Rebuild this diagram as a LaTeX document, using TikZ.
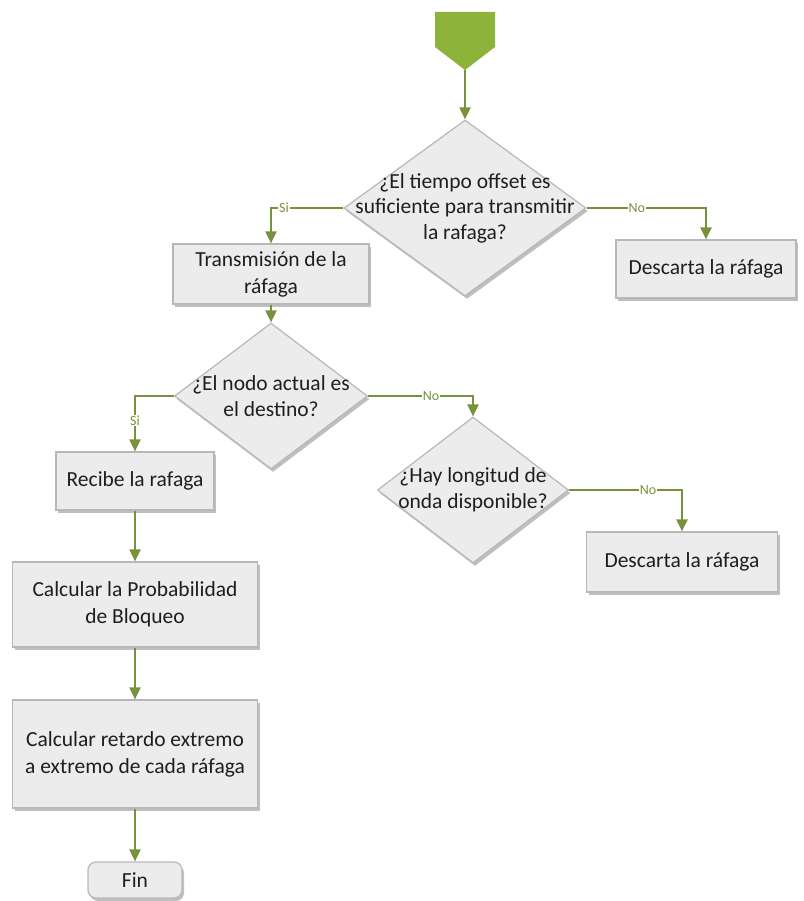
\documentclass[tikz,border=0pt]{standalone}
\usepackage{fontspec}
\setmainfont{Carlito}
\usetikzlibrary{shapes.geometric,arrows.meta,shadows}
\definecolor{flowgreen}{HTML}{76923C}
\definecolor{startgreen}{HTML}{8DB33A}
\definecolor{boxfill}{HTML}{ECECEC}
\definecolor{boxline}{HTML}{B8B8B8}
\definecolor{txtcol}{HTML}{1E1E1E}
\tikzset{
  boxshadow/.style={drop shadow={shadow xshift=2pt,shadow yshift=-3pt,fill=black!45,opacity=0.55}},
  procbox/.style={draw=boxline,line width=1.2pt,fill=boxfill,boxshadow,rectangle,
    align=center,text=txtcol,font=\fontsize{21.5}{27}\selectfont,inner sep=2pt},
  decision/.style={draw=boxline,line width=1.2pt,fill=boxfill,boxshadow,diamond,inner sep=0pt},
  dtext/.style={align=center,text=txtcol,font=\fontsize{21.5}{25.5}\selectfont},
  endbox/.style={procbox,rounded corners=8pt},
  flow/.style={draw=flowgreen,line width=2pt,-{Triangle[width=11pt,length=12pt]}},
  lab/.style={fill=white,text=flowgreen,font=\fontsize{14}{16}\selectfont,inner sep=1pt}
}
\begin{document}
\begin{tikzpicture}[x=1pt,y=-1pt]
\useasboundingbox[fill=white] (0,0) rectangle (803,901);

% start symbol
\fill[startgreen] (435,12) -- (495,12) -- (495,47) -- (465,70) -- (435,47) -- cycle;
\coordinate (st) at (465,70);

% decisions
\node[decision,minimum width=242pt,minimum height=176pt] (d1) at (465,208) {};
\node[dtext] at (d1) {¿El tiempo offset es\\suficiente para transmitir\\la rafaga?};
\node[decision,minimum width=193pt,minimum height=146pt] (d2) at (271,396) {};
\node[dtext] at (d2) {¿El nodo actual es\\el destino?};
\node[decision,minimum width=191pt,minimum height=146pt] (d3) at (473,490) {};
\node[dtext] at (d3) {¿Hay longitud de\\onda disponible?};

% process boxes
\node[procbox,minimum width=196pt,minimum height=60pt] (b1) at (271,274) {Transmisión de la\\ráfaga};
\node[procbox,minimum width=180pt,minimum height=58pt] (r1) at (706,269) {Descarta la ráfaga};
\node[procbox,minimum width=158pt,minimum height=58pt] (b2) at (135,481) {Recibe la rafaga};
\node[procbox,minimum width=191pt,minimum height=60pt] (r2) at (682,562) {Descarta la ráfaga};
\node[procbox,minimum width=245pt,minimum height=85pt] (b3) at (135,604.5) {Calcular la Probabilidad\\de Bloqueo};
\node[procbox,minimum width=245pt,minimum height=108pt] (b4) at (135,754) {Calcular retardo extremo\\a extremo de cada ráfaga};
\node[endbox,minimum width=94pt,minimum height=36pt] (fin) at (135,880) {Fin};

% connectors
\draw[flow] (st) -- (d1.north);
\draw[flow] (d1.west) -| node[lab,pos=0.41] {Si} (b1.north);
\draw[flow] (d1.east) -| node[lab,pos=0.21] {No} (r1.north);
\draw[flow] (b1.south) -- (d2.north);
\draw[flow] (d2.west) -| node[lab,pos=0.72] {Si} (b2.north);
\draw[flow] (d2.east) -| node[lab,pos=0.3] {No} (d3.north);
\draw[flow] (d3.east) -| node[lab,pos=0.35] {No} (r2.north);
\draw[flow] (b2.south) -- (b3.north);
\draw[flow] (b3.south) -- (b4.north);
\draw[flow] (b4.south) -- (fin.north);
\end{tikzpicture}
\end{document}
